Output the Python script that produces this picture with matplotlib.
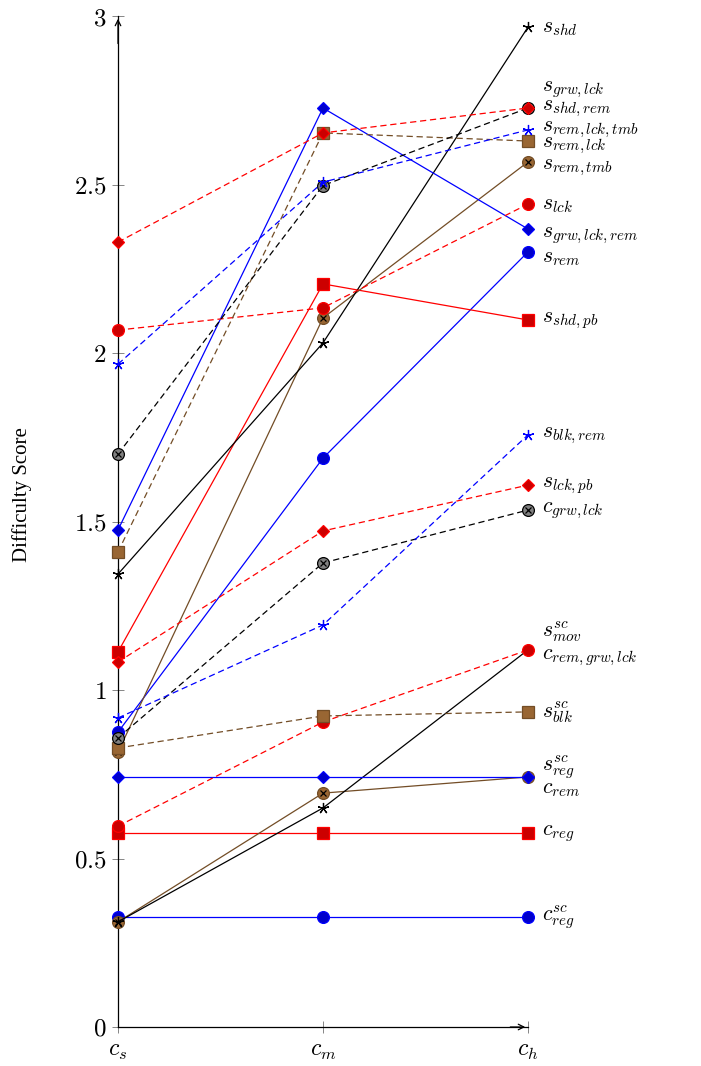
import matplotlib.pyplot as plt
import numpy as np

plt.rcParams['mathtext.fontset'] = 'cm'
plt.rcParams['font.family'] = 'serif'

levels = ['$c_s$', '$c_m$', '$c_h$']
yticks = [0, 0.5, 1, 1.5, 2, 2.5, 3]

# series: (label, values at c_s, c_m, c_h)
s_rem = [0.875, 1.688, 2.300]
s_shd_pb = [1.113, 2.205, 2.098]
s_rem_tmb = [0.816, 2.104, 2.567]
s_shd = [1.344, 2.030, 2.967]
s_grw_lck_rem = [1.475, 2.727, 2.368]
s_lck = [2.068, 2.134, 2.442]
s_rem_lck = [1.410, 2.653, 2.629]
s_grw_lck = [1.700, 2.497, 2.727]
s_rem_lck_tmb = [1.967, 2.507, 2.662]
s_shd_rem = [2.329, 2.653, 2.727]
c_reg_sc = [0.326, 0.326, 0.326]
c_reg = [0.576, 0.576, 0.576]
c_rem = [0.312, 0.694, 0.742]
c_rem_grw_lck = [0.312, 0.650, 1.119]
s_reg_sc = [0.742, 0.742, 0.742]
s_mov_sc = [0.596, 0.905, 1.119]
s_blk_sc = [0.828, 0.923, 0.935]
c_grw_lck = [0.858, 1.377, 1.534]
s_blk_rem = [0.917, 1.193, 1.757]
s_lck_pb = [1.083, 1.472, 1.608]

series = [
    (r'$s_{rem}$', s_rem),
    (r'$s_{shd,pb}$', s_shd_pb),
    (r'$s_{rem,tmb}$', s_rem_tmb),
    (r'$s_{shd}$', s_shd),
    (r'$s_{grw,lck,rem}$', s_grw_lck_rem),
    (r'$s_{lck}$', s_lck),
    (r'$s_{rem,lck}$', s_rem_lck),
    (r'$s_{grw,lck}$', s_grw_lck),
    (r'$s_{rem,lck,tmb}$', s_rem_lck_tmb),
    (r'$s_{shd,rem}$', s_shd_rem),
    (r'$c^{sc}_{reg}$', c_reg_sc),
    (r'$c_{reg}$', c_reg),
    (r'$c_{rem}$', c_rem),
    (r'$c_{rem,grw,lck}$', c_rem_grw_lck),
    (r'$s^{sc}_{reg}$', s_reg_sc),
    (r'$s^{sc}_{mov}$', s_mov_sc),
    (r'$s^{sc}_{blk}$', s_blk_sc),
    (r'$c_{grw,lck}$', c_grw_lck),
    (r'$s_{blk,rem}$', s_blk_rem),
    (r'$s_{lck,pb}$', s_lck_pb),
]

# label nudges in points (to separate overlapping end labels)
nudge = {
    r'$s_{grw,lck}$': 14, r'$s_{shd,rem}$': 0,
    r'$s_{rem,lck,tmb}$': 1, r'$s_{rem,lck}$': -3,
    r'$s_{rem,tmb}$': -4, r'$s_{grw,lck,rem}$': -4, r'$s_{rem}$': -4,
    r'$s^{sc}_{mov}$': 13, r'$c_{rem,grw,lck}$': -5,
    r'$s^{sc}_{reg}$': 7, r'$c_{rem}$': -8,
}

brown = '#734D26'
brownfill = '#996633'
dash = (0, (5, 3))
# pgfplots-like cycle list
cycle = [
    dict(color='blue', ls='-', marker='o', mfc='#0000CC', ms=8.5),
    dict(color='red', ls='-', marker='s', mfc='#CC0000', ms=8),
    dict(color=brown, ls='-', marker='o', mfc=brownfill, ms=8.5, cross=True),
    dict(color='black', ls='-', marker=(5, 2, 0), mfc='none', ms=8),
    dict(color='blue', ls='-', marker='D', mfc='#0000CC', ms=6),
    dict(color='red', ls=dash, marker='o', mfc='#CC0000', ms=8.5),
    dict(color=brown, ls=dash, marker='s', mfc=brownfill, ms=8),
    dict(color='black', ls=dash, marker='o', mfc='gray', ms=8.5, cross=True),
    dict(color='blue', ls=dash, marker=(5, 2, 0), mfc='none', ms=8),
    dict(color='red', ls=dash, marker='D', mfc='#CC0000', ms=6),
]

x = np.arange(len(levels))

fig = plt.figure(figsize=(7.01, 10.66), dpi=100)
ax = fig.add_axes([118 / 701, 1 - 1027 / 1066, 410 / 701, 1011 / 1066])

for i, (name, vals) in enumerate(series):
    st = cycle[i % 10]
    ax.plot(x, vals, color=st['color'], ls=st['ls'], lw=0.9,
            marker=st['marker'], ms=st['ms'], mfc=st['mfc'],
            mec=st['color'], mew=0.9, clip_on=False, zorder=3 + i * 0.1)
    if st.get('cross'):
        ax.plot(x, vals, ls='none', marker='x', ms=5, mec='black',
                mew=0.9, clip_on=False, zorder=3 + i * 0.1 + 0.05)
    ax.annotate(name, xy=(x[-1], vals[-1]), xytext=(10, nudge.get(name, 0)),
                textcoords='offset points', va='center', ha='left',
                fontsize=15.5, annotation_clip=False)

ax.set_xlim(0, 2)
ax.set_ylim(0, 3)
ax.set_xticks(x)
ax.set_xticklabels(levels, fontsize=17)
ax.set_yticks(yticks)
ax.set_yticklabels([f'${v:g}$' for v in yticks], fontsize=18)
ax.tick_params(direction='inout', length=9, width=0.6, color='0.45', pad=4)
ax.spines['top'].set_visible(False)
ax.spines['right'].set_visible(False)
ax.spines['left'].set_linewidth(0.9)
ax.spines['bottom'].set_linewidth(0.9)

# axis arrows
ax.annotate('', xy=(0, 1), xytext=(0, 0.97), xycoords='axes fraction',
            arrowprops=dict(arrowstyle='->', lw=0.9, color='black'))
ax.annotate('', xy=(1, 0), xytext=(0.95, 0), xycoords='axes fraction',
            arrowprops=dict(arrowstyle='->', lw=0.9, color='black'))

fig.text(22 / 701, 1 - 495 / 1066, 'Difficulty Score', rotation=90,
         va='center', ha='center', fontsize=15, family='Liberation Serif')

fig.savefig('out.png', dpi=100)
